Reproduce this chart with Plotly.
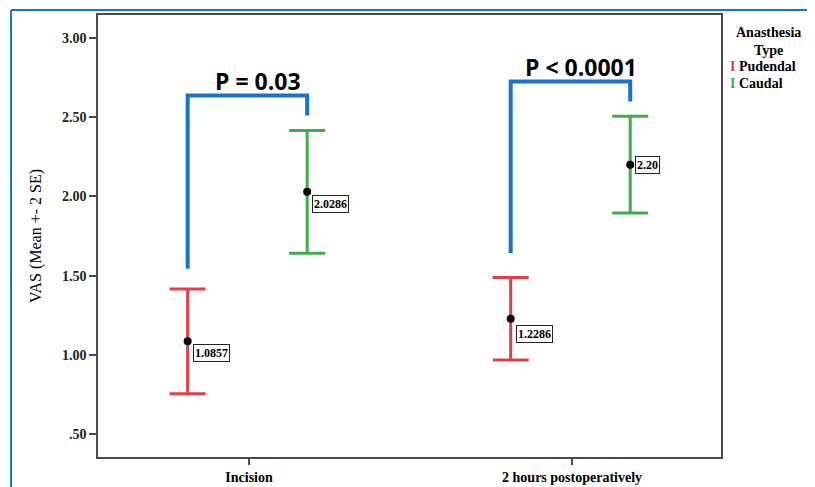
import plotly.graph_objects as go

# ---- data ----
time_points = ["Incision", "2 hours postoperatively"]
groups = ["Pudendal", "Caudal"]
pudendal_mean = [1.0857, 1.2286]
pudendal_2se = [0.330, 0.260]
caudal_mean = [2.0286, 2.20]
caudal_2se = [0.387, 0.305]
mean_labels_pud = ["1.0857", "1.2286"]
mean_labels_cau = ["2.0286", "2.20"]
p_values = ["P = 0.03", "P < 0.0001"]
bracket_left_low = [1.543, 1.643]
bracket_top = [2.636, 2.724]
bracket_right_low = [2.51, 2.598]
y_ticks = [0.5, 1.0, 1.5, 2.0, 2.5, 3.0]
y_tick_text = [".50", "1.00", "1.50", "2.00", "2.50", "3.00"]

# ---- style ----
RED = "#df3f46"
GREEN = "#3fae4a"
BLUE = "#1a72d0"
AX = "#4a4a4a"
SERIF = "Liberation Serif"
off_pud, off_cau = -0.19, 0.18
xc = list(range(len(time_points)))

fig = go.Figure()
for means, errs, col, off, name in [
    (pudendal_mean, pudendal_2se, RED, off_pud, groups[0]),
    (caudal_mean, caudal_2se, GREEN, off_cau, groups[1]),
]:
    fig.add_trace(go.Scatter(
        x=[c + off for c in xc], y=means, mode="markers", name=name,
        marker=dict(color="black", size=8),
        error_y=dict(type="data", array=errs, visible=True, color=col,
                     thickness=3, width=18),
        showlegend=False, hoverinfo="skip"))

# value labels
lab_shift = {("p", 0): -3, ("p", 1): -6, ("c", 0): -3, ("c", 1): 9}
for i in xc:
    for key, means, labels, off in [("p", pudendal_mean, mean_labels_pud, off_pud),
                                    ("c", caudal_mean, mean_labels_cau, off_cau)]:
        fig.add_annotation(x=i + off, y=means[i], text="<b>" + labels[i] + "</b>",
                           showarrow=False, xanchor="left", yanchor="top",
                           xshift=5, yshift=lab_shift[(key, i)],
                           font=dict(family=SERIF, size=12, color="black"),
                           bgcolor="white", bordercolor="#222", borderwidth=1, borderpad=1)

# significance brackets
for i in xc:
    xl = i + off_pud
    xr = i + off_cau
    fig.add_trace(go.Scatter(
        x=[xl, xl, xr, xr],
        y=[bracket_left_low[i], bracket_top[i], bracket_top[i], bracket_right_low[i]],
        mode="lines", line=dict(color=BLUE, width=4),
        showlegend=False, hoverinfo="skip"))
    fig.add_annotation(x=(xl + xr) / 2, y=bracket_top[i], text="<b>" + p_values[i] + "</b>",
                       showarrow=False, xanchor="center", yanchor="bottom",
                       xshift=11, yshift=-3,
                       font=dict(family="Open Sans", size=23, color="black"))

# legend (drawn)
fig.add_annotation(xref="paper", yref="paper", x=1.0, y=1.0, xshift=47, yshift=-8,
                   text="<b>Anasthesia<br>Type</b>", showarrow=False,
                   xanchor="center", yanchor="top",
                   font=dict(family=SERIF, size=14, color="black"))
for k, (g, col) in enumerate([(groups[0], RED), (groups[1], GREEN)]):
    fig.add_annotation(xref="paper", yref="paper", x=1.0, y=1.0, xshift=7, yshift=-42 - 17 * k,
                       text="<b><span style='color:%s'>I</span> %s</b>" % (col, g),
                       showarrow=False, xanchor="left", yanchor="top",
                       font=dict(family=SERIF, size=14, color="black"))

# blue frame (left and top)
fig.add_shape(type="line", xref="paper", yref="paper", x0=-0.1396, x1=-0.1396,
              y0=1.0113, y1=-0.2, line=dict(color=BLUE, width=2))
fig.add_shape(type="line", xref="paper", yref="paper", x0=-0.1396, x1=1.2,
              y0=1.0113, y1=1.0113, line=dict(color=BLUE, width=2))

fig.update_layout(
    width=815, height=487,
    margin=dict(l=90, r=102, t=5, b=38),
    paper_bgcolor="white", plot_bgcolor="white",
    showlegend=False,
    xaxis=dict(range=[-0.4675, 1.461], tickvals=xc, ticktext=["<b>%s</b>" % t for t in time_points],
               showgrid=False, zeroline=False, showline=True, linecolor=AX, linewidth=1.5,
               mirror=True, ticks="outside", ticklen=6, tickcolor=AX, tickwidth=1.5,
               tickfont=dict(family=SERIF, size=14, color="black")),
    yaxis=dict(range=[0.356, 3.144], tickvals=y_ticks, ticktext=["<b>%s</b>" % t for t in y_tick_text],
               showgrid=False, zeroline=False, showline=True, linecolor=AX, linewidth=1.5,
               mirror=True, ticks="outside", ticklen=7, tickcolor=AX, tickwidth=1.5,
               tickfont=dict(family=SERIF, size=14, color="#222"),
               title=dict(text="VAS (Mean +- 2 SE)", standoff=16,
                          font=dict(family=SERIF, size=16, color="black"))),
)

fig.write_html("out.html")
